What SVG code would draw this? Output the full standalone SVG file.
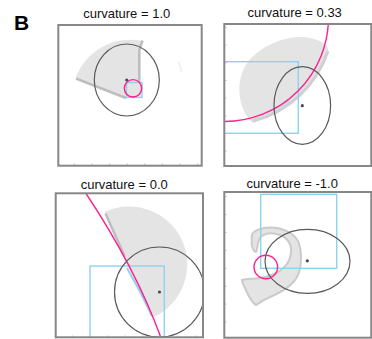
<svg xmlns="http://www.w3.org/2000/svg" width="372" height="339" viewBox="0 0 372 339">
<style>
.frame{fill:none;stroke:#878787;stroke-width:2}
.tick{stroke:#b4b4b4;stroke-width:0.8}
.ell{fill:none;stroke:#5a5a5a;stroke-width:1.2}
.dot{fill:#4a4a4a}
.mag{fill:none;stroke:#ff1f8e;stroke-width:1.4}
.cy{fill:none;stroke:#8ed2f2;stroke-width:1.4}
.gr{fill:#e4e4e4}
.edge{fill:none;stroke:#bdbdbd;stroke-width:2.5;stroke-linejoin:round}
.title{font-family:"Liberation Sans",Arial,sans-serif;font-size:13px;fill:#111;text-anchor:middle}
</style>
<defs>
<clipPath id="c1"><rect x="58" y="25" width="144" height="141"/></clipPath>
<clipPath id="c2"><rect x="224" y="24" width="148" height="142"/></clipPath>
<clipPath id="c3"><rect x="56" y="193" width="147" height="144.5"/></clipPath>
<clipPath id="c4"><rect x="224" y="192" width="148" height="146"/></clipPath>
</defs>
<text x="14" y="30" font-family="Liberation Sans,Arial,sans-serif" font-size="21" font-weight="bold" fill="#000">B</text>

<g id="panel1">
<text class="title" x="126.7" y="17.5">curvature = 1.0</text>
<g clip-path="url(#c1)">
<path class="gr" d="M126,97 L76,77 A58 58 0 0 1 142.5,41 L138.5,50 L138.5,83 L141,86 L141,97 Z"/>
<path class="edge" d="M76,78.5 L126,98"/>
<path class="edge" d="M142.5,40.5 L139.3,50 L139.3,83"/>
<path d="M178,62 Q181,67 181.5,72" fill="none" stroke="#eeeeee" stroke-width="1.5"/>
<ellipse class="ell" cx="126.8" cy="80" rx="32.5" ry="36"/>
<circle class="dot" cx="126.7" cy="80" r="1.6"/>
<rect class="cy" x="126.5" y="82.5" width="15.5" height="15"/>
<circle class="mag" cx="133" cy="88.3" r="8.7"/>
</g>
<g class="tick">
<line x1="74.3" y1="163.5" x2="74.3" y2="165.5"/><line x1="92" y1="163.5" x2="92" y2="165.5"/><line x1="109.6" y1="163.5" x2="109.6" y2="165.5"/><line x1="127.2" y1="163.5" x2="127.2" y2="165.5"/><line x1="144.8" y1="163.5" x2="144.8" y2="165.5"/><line x1="162.4" y1="163.5" x2="162.4" y2="165.5"/><line x1="180" y1="163.5" x2="180" y2="165.5"/><line x1="197.6" y1="163.5" x2="197.6" y2="165.5"/>
</g>
<rect class="frame" x="58.3" y="25" width="143.4" height="140.7"/>
</g>

<g id="panel2">
<text class="title" x="294.7" y="16.5">curvature = 0.33</text>
<g clip-path="url(#c2)">
<path class="gr" d="M328,51 A109 109 0 0 1 252.7,122.8 C238,110 234,80 248,62 C262,44 290,34 310,38 C320,40 330,45 328,51 Z"/>
<path d="M328,51 A107 107 0 0 1 253,121" fill="none" stroke="#d0d0d0" stroke-width="3"/>
<path d="M289,101 A105 105 0 0 1 270,111" fill="none" stroke="#a8dcf2" stroke-width="2"/>
<rect class="cy" x="224.3" y="61.7" width="74" height="71.6"/>
<circle class="mag" cx="224.5" cy="17.5" r="104"/>
<ellipse class="ell" cx="302.3" cy="105.5" rx="28.3" ry="38.8"/>
<circle class="dot" cx="302.3" cy="105.7" r="1.6"/>
</g>
<g class="tick">
<line x1="224.5" y1="27.3" x2="226.5" y2="27.3"/><line x1="224.5" y1="45" x2="226.5" y2="45"/><line x1="224.5" y1="62.7" x2="226.5" y2="62.7"/><line x1="224.5" y1="80.4" x2="226.5" y2="80.4"/><line x1="224.5" y1="98.1" x2="226.5" y2="98.1"/><line x1="224.5" y1="115.8" x2="226.5" y2="115.8"/><line x1="224.5" y1="133.5" x2="226.5" y2="133.5"/><line x1="224.5" y1="151.2" x2="226.5" y2="151.2"/>
</g>
<rect class="frame" x="224.3" y="24" width="147" height="142"/>
</g>

<g id="panel3">
<text class="title" x="124.2" y="189">curvature = 0.0</text>
<g clip-path="url(#c3)">
<path class="gr" d="M104.5,212 A58 58 0 0 1 154,317 L128,266 Z"/>
<path class="edge" d="M105.5,213.5 L124.5,256"/>
<path d="M127,268 Q141,292 152,316" fill="none" stroke="#8ed2f2" stroke-width="2"/>
<rect class="cy" x="90" y="266" width="74.3" height="73"/>
<path class="mag" d="M85.7,193 Q135,267 160.7,337"/>
<circle class="ell" cx="159.5" cy="292" r="45"/>
<circle class="dot" cx="159.5" cy="292" r="1.6"/>
</g>
<g class="tick">
<line x1="72.3" y1="335.5" x2="72.3" y2="337.5"/><line x1="89.9" y1="335.5" x2="89.9" y2="337.5"/><line x1="107.5" y1="335.5" x2="107.5" y2="337.5"/><line x1="125.1" y1="335.5" x2="125.1" y2="337.5"/><line x1="142.7" y1="335.5" x2="142.7" y2="337.5"/><line x1="160.3" y1="335.5" x2="160.3" y2="337.5"/><line x1="177.9" y1="335.5" x2="177.9" y2="337.5"/><line x1="195.5" y1="335.5" x2="195.5" y2="337.5"/>
</g>
<rect class="frame" x="55.7" y="193.3" width="147.3" height="144"/>
</g>

<g id="panel4">
<text class="title" x="292.2" y="187.5">curvature = -1.0</text>
<g clip-path="url(#c4)">
<path class="gr" stroke="#cbcbcb" stroke-width="2" stroke-linejoin="round" d="M251.7,236 C252,231 262,227 272,227.5 C282,228 293,232 298,241 C302,250 302,265 298,275 C294,284 282,292 270,297 C263,300 258,304 256,305 C252,303 248,295 245,288 C243,284 242,281 242,280 C246,279 250,279 255,278.5 C262,278 270,276 276,273 C284,269 290,262 291,253 C292,245 288,238 280,235 C272,232 264,233 260,238 C257,242 258,248 256,252 C254,252 252,248 251.7,244 Z"/>
<rect class="cy" x="260.7" y="194.3" width="76" height="74"/>
<ellipse class="ell" cx="307.5" cy="261.3" rx="42.5" ry="32"/>
<circle class="dot" cx="307.3" cy="260.8" r="1.6"/>
<circle class="mag" cx="265.8" cy="267" r="11.8"/>
</g>
<g class="tick">
<line x1="224.5" y1="196.7" x2="226.5" y2="196.7"/><line x1="224.5" y1="214.6" x2="226.5" y2="214.6"/><line x1="224.5" y1="232.5" x2="226.5" y2="232.5"/><line x1="224.5" y1="250.4" x2="226.5" y2="250.4"/><line x1="224.5" y1="268.3" x2="226.5" y2="268.3"/><line x1="224.5" y1="286.2" x2="226.5" y2="286.2"/><line x1="224.5" y1="304.1" x2="226.5" y2="304.1"/><line x1="224.5" y1="322" x2="226.5" y2="322"/>
</g>
<rect class="frame" x="224.3" y="192" width="147" height="145.7"/>
</g>
</svg>
